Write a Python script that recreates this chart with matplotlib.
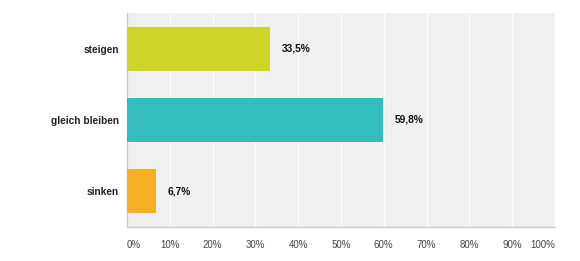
import matplotlib
matplotlib.use("Agg")
import matplotlib.pyplot as plt

categories = ["steigen", "gleich bleiben", "sinken"]
values = [33.5, 59.8, 6.7]
value_labels = ["33,5%", "59,8%", "6,7%"]
colors = ["#cdd52a", "#33bdbe", "#f7af22"]
ticks = [0, 10, 20, 30, 40, 50, 60, 70, 80, 90, 100]

plt.rcParams['font.family'] = ['Liberation Sans', 'DejaVu Sans']

fig = plt.figure(figsize=(5.8, 2.61), dpi=100)
ax = fig.add_axes([127 / 580, 1 - 227 / 261, 428 / 580, 214 / 261])
ax.set_facecolor("#f0f0f0")

pos = list(range(len(categories)))
ax.barh(pos, values, height=0.62, color=colors, zorder=3)
ax.set_ylim(len(categories) - 0.5, -0.5)
ax.set_xlim(0, 100)

for p, v, lab in zip(pos, values, value_labels):
    ax.text(v + 2.7, p, lab, va="center", ha="left", fontsize=7.3,
            fontweight="bold", color="#111111")

ax.set_yticks(pos)
ax.set_yticklabels(categories, fontsize=7.3, fontweight="bold", color="#222222")
ax.set_xticks(ticks)
ax.set_xticklabels([f"{t}%" for t in ticks], fontsize=7, color="#444444")
labels = ax.get_xticklabels()
labels[0].set_horizontalalignment("left")
labels[-1].set_horizontalalignment("right")
ax.tick_params(axis="both", length=0)
ax.tick_params(axis="x", pad=9)
ax.tick_params(axis="y", pad=6)

ax.grid(axis="x", color="white", linewidth=1.0, zorder=1)
for s in ["top", "right"]:
    ax.spines[s].set_visible(False)
ax.spines["left"].set_color("#cccccc")
ax.spines["bottom"].set_color("#cccccc")
ax.spines["left"].set_linewidth(1.0)
ax.spines["bottom"].set_linewidth(1.0)

fig.savefig("out.png", dpi=100)
